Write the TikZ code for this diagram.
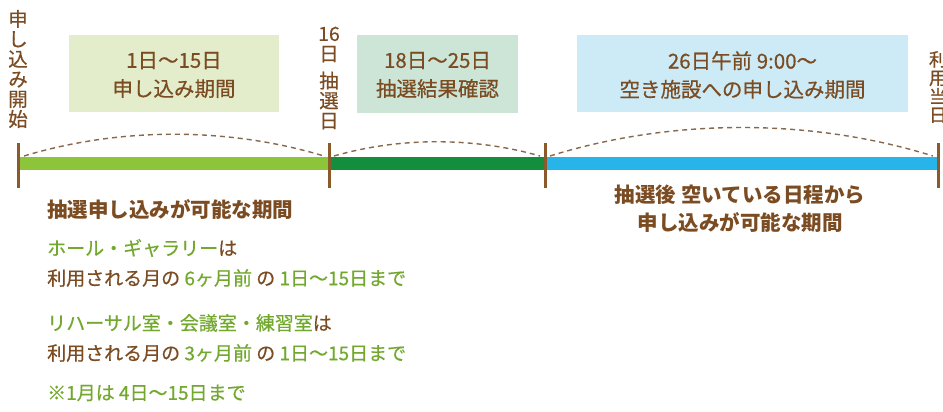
\documentclass[tikz,border=0pt]{standalone}
\usepackage{fontspec}
\setmainfont{Noto Sans CJK JP}
\newfontfamily\medfont{Noto Sans CJK JP}[FakeBold=0.5]
\definecolor{tbrown}{HTML}{7B4B22}
\definecolor{tgreen}{HTML}{72A82E}
\definecolor{tick}{HTML}{8B5A2B}
\definecolor{dashc}{HTML}{86684C}
\definecolor{barA}{HTML}{8CC43A}
\definecolor{barB}{HTML}{138E3C}
\definecolor{barC}{HTML}{27B4E8}
\definecolor{boxA}{HTML}{E3EDCB}
\definecolor{boxB}{HTML}{CCE5D6}
\definecolor{boxC}{HTML}{CDEBF7}
\begin{document}
\begin{tikzpicture}[x=1pt,y=-1pt,
  txt/.style={inner sep=0pt, text=tbrown, font=\medfont\fontsize{20}{20}\selectfont},
  vlabel/.style={txt, align=center, font=\medfont\fontsize{19.5}{20}\selectfont},
  boxtxt/.style={txt, align=center, font=\medfont\fontsize{20.5}{28.5}\selectfont},
  bar/.style={line width=13pt},
  tickline/.style={draw=tick, line width=3pt},
  arc/.style={draw=dashc, line width=1.4pt, dash pattern=on 5pt off 4pt},
  note/.style={inner sep=0pt, anchor=west, text=tbrown, font=\medfont\fontsize{19}{20}\selectfont},
  boldnote/.style={note, font=\fontsize{20.5}{28}\selectfont\bfseries}
]
\path[use as bounding box, fill=white] (0,0) rectangle (943,412);
\clip (0,0) rectangle (943,412);

% period boxes
\fill[boxA] (69,35) rectangle (279,112);
\fill[boxB] (357,35) rectangle (518,113);
\fill[boxC] (577,35) rectangle (908,112);
\node[boxtxt] (b1) at (174,75) {1日〜15日\\申し込み期間};
\node[boxtxt] (b2) at (437.5,75) {18日〜25日\\抽選結果確認};
\node[boxtxt] (b3) at (742.5,75) {26日午前 9:00〜\\空き施設への申し込み期間};

% tick coordinates
\coordinate (t0) at (18,163.5);
\coordinate (t1) at (329,163.5);
\coordinate (t2) at (545,163.5);
\coordinate (t3) at (938,163.5);

% bars
\draw[bar, barA] (t0) -- (t1);
\draw[bar, barB] (t1) -- (t2);
\draw[bar, barC] (t2) -- (t3);

% ticks
\draw[tickline] (18,143) -- (18,188);
\draw[tickline] (329,143) -- (329,188);
\draw[tickline] (545,143) -- (545,188);
\draw[tickline] (938,143) -- (938,188);

% dashed arcs
\coordinate (a0s) at (24,156);
\coordinate (a0e) at (324,156);
\coordinate (a1s) at (334,156);
\coordinate (a1e) at (540,156);
\coordinate (a2s) at (550,156);
\coordinate (a2e) at (933,156);
\draw[arc] (a0s) .. controls (120,127) and (228,127) .. (a0e);
\draw[arc] (a1s) .. controls (400,137) and (474,137) .. (a1e);
\draw[arc] (a2s) .. controls (672,118) and (811,118) .. (a2e);

% vertical labels
\node[vlabel] (lstart) at (18,69) {申\\し\\込\\み\\開\\始};
\node[vlabel] (ldraw) at (329,78) {16\\日\\[7pt]抽\\選\\日};
\node[vlabel, font=\medfont\fontsize{18}{18.5}\selectfont] (lday) at (938,87) {利\\用\\当\\日};

% bottom left notes
\node[boldnote] (n0) at (47,210) {抽選申し込みが可能な期間};
\node[note] (n1) at (47,248) {\textcolor{tgreen}{ホール・ギャラリー}は};
\node[note] (n2) at (47,278) {利用される月の \textcolor{tgreen}{6ヶ月前} の \textcolor{tgreen}{1日〜15日まで}};
\node[note] (n3) at (47,323) {\textcolor{tgreen}{リハーサル室・会議室・練習室}は};
\node[note] (n4) at (47,353) {利用される月の \textcolor{tgreen}{3ヶ月前} の \textcolor{tgreen}{1日〜15日まで}};
\node[note, text=tgreen] (n5) at (47,393) {※1月は 4日〜15日まで};

% bottom right note
\node[txt, align=center, font=\fontsize{20.5}{28}\selectfont\bfseries] (n6) at (740,209) {抽選後 空いている日程から\\申し込みが可能な期間};
\end{tikzpicture}
\end{document}
